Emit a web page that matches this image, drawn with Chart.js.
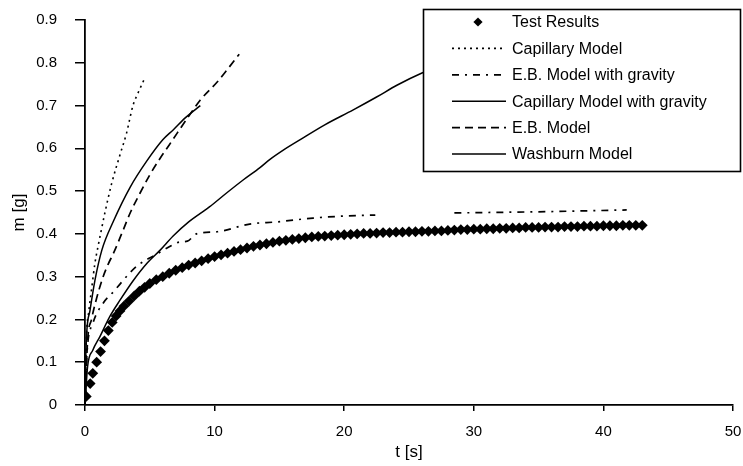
<!DOCTYPE html>
<html>
<head>
<meta charset="utf-8">
<script src="https://cdn.jsdelivr.net/npm/chart.js@4/dist/chart.umd.min.js"></script>
<style>
html,body{margin:0;padding:0;background:#fff;}
#c{display:block;}
</style>
</head>
<body>
<canvas id="c" width="743" height="466"></canvas>
<script>
// ---- tick labels ----
const xTicks = [0, 10, 20, 30, 40, 50];
const yTicks = [0, 0.1, 0.2, 0.3, 0.4, 0.5, 0.6, 0.7, 0.8, 0.9];
const xTitle = "t [s]";
const yTitle = "m [g]";

// ---- series labels ----
const seriesLabels = [
  "Test Results",
  "Capillary Model",
  "E.B. Model with gravity",
  "Capillary Model with gravity",
  "E.B. Model",
  "Washburn Model"
];

// ---- Test Results ----
const testT = [0.1,0.4,0.6,0.9,1.2,1.5,1.8,2.1,2.4,2.7,3.0,3.4,3.8,4.2,4.6,
  5.0,5.5,6.0,6.5,7.0,7.5,8.0,8.5,9.0,9.5,10.0,10.5,11.0,11.5,12.0,12.5,13.0,13.5,14.0,14.5,
  15.0,15.5,16.0,16.5,17.0,17.5,18.0,18.5,19.0,19.5,20.0,20.5,21.0,21.5,22.0,22.5,23.0,23.5,24.0,24.5,
  25.0,25.5,26.0,26.5,27.0,27.5,28.0,28.5,29.0,29.5,30.0,30.5,31.0,31.5,32.0,32.5,33.0,33.5,34.0,34.5,
  35.0,35.5,36.0,36.5,37.0,37.5,38.0,38.5,39.0,39.5,40.0,40.5,41.0,41.5,42.0,42.5,43.0];
const testM = [0.02,0.05,0.074,0.10,0.125,0.15,0.174,0.193,0.208,0.22,0.231,0.243,0.255,0.266,0.275,
  0.284,0.293,0.300,0.308,0.315,0.321,0.327,0.332,0.337,0.342,0.347,0.351,0.355,0.359,0.363,0.367,0.371,0.374,0.377,0.380,
  0.383,0.385,0.387,0.389,0.391,0.393,0.394,0.395,0.396,0.397,0.398,0.399,0.400,0.401,0.401,0.402,0.403,0.403,0.404,0.404,
  0.405,0.405,0.406,0.406,0.407,0.407,0.408,0.409,0.410,0.410,0.411,0.411,0.412,0.412,0.413,0.413,0.414,0.414,0.415,0.415,
  0.415,0.416,0.416,0.416,0.417,0.417,0.417,0.418,0.418,0.418,0.419,0.419,0.419,0.420,0.420,0.420,0.420];

// ---- Capillary Model ----
const capT = [0,0.1,0.3,0.5,0.77,1.0,1.2,1.54,2.06,2.7,3.2,3.7,4.1,4.55];
const capM = [0,0.15,0.22,0.269,0.332,0.37,0.40,0.45,0.518,0.585,0.635,0.70,0.73,0.76];

// ---- E.B. Model with gravity ----
const ebgT = [0,0.15,0.6,1.4,2.2,3.5,4.1,5.5,6.5,7.3,7.9,8.6,10.2,12.7,14.8,17.6,20.2,22.4,25,28.5,35.6,41.8];
const ebgM = [0,0.12,0.19,0.238,0.265,0.31,0.327,0.352,0.37,0.381,0.383,0.40,0.405,0.423,0.428,0.437,0.442,0.444,null,0.449,0.452,0.456];

// ---- Capillary Model with gravity ----
const capgT = [0,0.05,0.13,0.39,0.77,1.3,2.2,3.5,4.76,6.0,6.8,7.8,8.9];
const capgM = [0,0.1,0.168,0.222,0.292,0.362,0.43,0.51,0.57,0.62,0.643,0.673,0.70];

// ---- E.B. Model ----
const ebT = [0,0.2,0.5,0.9,1.4,1.8,2.2,2.96,3.5,4.24,5.0,5.8,6.5,7.1,8.0,8.9,10.2,11.0,11.9];
const ebM = [0,0.15,0.2,0.25,0.3,0.33,0.355,0.41,0.45,0.495,0.538,0.577,0.608,0.635,0.675,0.713,0.755,0.785,0.82];

// ---- Washburn Model ----
const washT = [0,0.2,0.6,1.15,1.9,2.7,3.7,4.8,5.8,6.8,8.0,8.9,9.6,10.9,12.2,13.5,14.3,15.3,16.8,18.5,20.7,22.5,24.1,26.0,28.0];
const washM = [0,0.09,0.128,0.16,0.206,0.245,0.29,0.332,0.362,0.395,0.428,0.448,0.463,0.495,0.526,0.555,0.575,0.596,0.624,0.655,0.69,0.72,0.748,0.776,0.80];

// ---------------------------------------------------------------
const FONT = "'Liberation Sans', Arial, Helvetica, sans-serif";
const DIAMOND_R = 5.4;
const pts = (xs, ys) => xs.map((x, i) => ({x: x, y: ys[i]}));

function lineDs(label, xs, ys, dash, width) {
  return {
    label: label,
    data: pts(xs, ys),
    showLine: true,
    borderColor: '#000',
    backgroundColor: '#000',
    borderWidth: width,
    borderDash: dash,
    pointRadius: 0,
    pointHoverRadius: 0,
    cubicInterpolationMode: 'monotone',
    spanGaps: false,
    fill: false
  };
}

const datasets = [
  {
    label: seriesLabels[0],
    data: pts(testT, testM),
    showLine: false,
    pointStyle: 'rectRot',
    pointRadius: DIAMOND_R,
    pointBorderWidth: 0,
    pointBackgroundColor: '#000',
    pointBorderColor: '#000',
    backgroundColor: '#000',
    borderColor: '#000'
  },
  lineDs(seriesLabels[1], capT, capM, [2, 4], 1.6),
  lineDs(seriesLabels[2], ebgT, ebgM, [7, 6, 2, 6], 1.7),
  lineDs(seriesLabels[3], capgT, capgM, [], 1.5),
  lineDs(seriesLabels[4], ebT, ebM, [8, 5], 1.7),
  lineDs(seriesLabels[5], washT, washM, [], 1.5)
];

const boxLegend = {
  id: 'boxLegend',
  afterDraw(chart) {
    const ctx = chart.ctx;
    const L = 423, T = 9, R = 741, B = 172;
    ctx.save();
    ctx.setLineDash([]);
    ctx.fillStyle = '#fff';
    ctx.fillRect(L, T, R - L, B - T);
    ctx.strokeStyle = '#000';
    ctx.lineWidth = 1.6;
    ctx.strokeRect(L + 0.5, T + 0.5, R - L - 1, B - T - 1);
    ctx.font = '16px ' + FONT;
    ctx.textBaseline = 'middle';
    ctx.textAlign = 'left';
    chart.data.datasets.forEach((ds, i) => {
      const y = 22 + i * 26.4;
      if (ds.showLine === false) {
        const r = 4.6, cx = 478;
        ctx.fillStyle = '#000';
        ctx.beginPath();
        ctx.moveTo(cx, y - r); ctx.lineTo(cx + r, y); ctx.lineTo(cx, y + r); ctx.lineTo(cx - r, y);
        ctx.closePath(); ctx.fill();
      } else {
        ctx.strokeStyle = '#000';
        ctx.lineWidth = ds.borderWidth;
        ctx.setLineDash(ds.borderDash || []);
        ctx.beginPath();
        ctx.moveTo(452, y); ctx.lineTo(506, y);
        ctx.stroke();
        ctx.setLineDash([]);
      }
      ctx.fillStyle = '#000';
      ctx.fillText(ds.label, 512, y + 1);
    });
    ctx.restore();
  }
};

new Chart(document.getElementById('c'), {
  type: 'scatter',
  data: { datasets: datasets },
  plugins: [boxLegend],
  options: {
    responsive: false,
    animation: false,
    devicePixelRatio: 1,
    events: [],
    layout: { padding: { top: 20, right: 10, left: 0, bottom: 0 } },
    plugins: { legend: { display: false }, tooltip: { enabled: false } },
    scales: {
      x: {
        type: 'linear',
        min: 0, max: 50,
        afterBuildTicks: s => { s.ticks = xTicks.map(v => ({value: v})); },
        afterFit: s => { s.height = 61; s.paddingLeft = 0; s.paddingRight = 0; },
        ticks: {
          color: '#000',
          font: { family: FONT, size: 15 },
          padding: 12,
          maxRotation: 0,
          callback: v => String(v)
        },
        grid: { drawOnChartArea: false, drawTicks: true, tickLength: 6, color: '#000', lineWidth: 1.5 },
        border: { display: true, color: '#000', width: 1.8 },
        title: { display: true, text: xTitle, color: '#000', font: { family: FONT, size: 17 }, padding: { top: 0, bottom: 3 } }
      },
      y: {
        type: 'linear',
        min: 0, max: 0.9,
        afterBuildTicks: s => { s.ticks = yTicks.map(v => ({value: v})); },
        afterFit: s => { s.width = 85; s.paddingTop = 0; s.paddingBottom = 0; },
        ticks: {
          color: '#000',
          font: { family: FONT, size: 15 },
          padding: 18,
          callback: v => String(v)
        },
        grid: { drawOnChartArea: false, drawTicks: true, tickLength: 10, color: '#000', lineWidth: 1.5 },
        border: { display: true, color: '#000', width: 1.8 },
        title: { display: true, text: yTitle, color: '#000', font: { family: FONT, size: 17 }, padding: { top: 9, bottom: 0 } }
      }
    }
  }
});
</script>
</body>
</html>
